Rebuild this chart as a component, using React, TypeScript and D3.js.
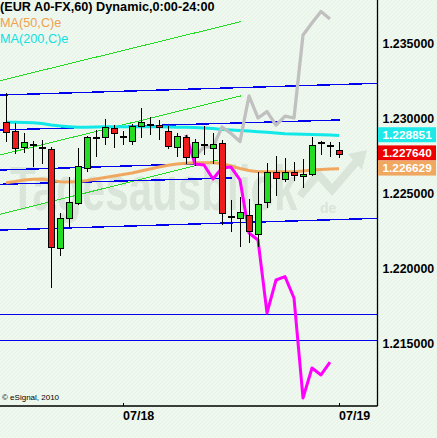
import React from 'react';
import * as d3 from 'd3';

const W = 437;
const H = 438;

// ---- Candle data (hourly EUR A0-FX) ----
const opens = [1.22973, 1.22915, 1.22807, 1.2282, 1.22805, 1.22793, 1.22133, 1.22333, 1.22433, 1.22667, 1.22872, 1.22873, 1.22933, 1.22877, 1.22847, 1.22951, 1.22955, 1.22955, 1.22915, 1.22811, 1.22873, 1.2274, 1.22822, 1.228, 1.22833, 1.22344, 1.22333, 1.22355, 1.22227, 1.2244, 1.22644, 1.22593, 1.22639, 1.22612, 1.2263, 1.22837, 1.22817, 1.22787];
const closes = [1.22907, 1.228, 1.22842, 1.2282, 1.22805, 1.22144, 1.22333, 1.2244, 1.22679, 1.22873, 1.22872, 1.22939, 1.229, 1.22877, 1.22947, 1.22973, 1.22955, 1.22939, 1.22817, 1.22882, 1.2274, 1.22839, 1.22822, 1.22832, 1.22367, 1.22344, 1.22377, 1.22251, 1.22429, 1.22644, 1.226, 1.22644, 1.22619, 1.22627, 1.2282, 1.22837, 1.22817, 1.22764];
const highs = [1.23169, 1.22967, 1.229, 1.22849, 1.22855, 1.22811, 1.22367, 1.22607, 1.228, 1.22882, 1.22922, 1.22995, 1.22955, 1.22915, 1.22961, 1.23071, 1.23012, 1.22989, 1.22951, 1.22904, 1.22889, 1.22861, 1.22949, 1.229, 1.22855, 1.22455, 1.22477, 1.22464, 1.22642, 1.227, 1.22749, 1.22733, 1.22711, 1.22727, 1.22877, 1.22847, 1.22842, 1.2284];
const lows = [1.22844, 1.22764, 1.22767, 1.22677, 1.22697, 1.21872, 1.22082, 1.22267, 1.22419, 1.22644, 1.22739, 1.22822, 1.22804, 1.22822, 1.22822, 1.22867, 1.22892, 1.22855, 1.22797, 1.22744, 1.22695, 1.22682, 1.22755, 1.22695, 1.22292, 1.22244, 1.22144, 1.22167, 1.22145, 1.22405, 1.22482, 1.22577, 1.22585, 1.22537, 1.22615, 1.22755, 1.22744, 1.22737];

// ---- Moving averages ----
const ma50 = [1.22571, 1.22579, 1.22589, 1.22593, 1.22595, 1.22585, 1.22577, 1.22575, 1.22579, 1.22585, 1.22595, 1.22605, 1.22615, 1.22625, 1.22635, 1.22649, 1.22662, 1.22675, 1.22687, 1.22695, 1.227, 1.22703, 1.22704, 1.22704, 1.22699, 1.22682, 1.22665, 1.22652, 1.22644, 1.22644, 1.22644, 1.22644, 1.22644, 1.22649, 1.22655, 1.22659, 1.22662, 1.226629];
const ma200 = [1.22973, 1.22973, 1.22972, 1.2297, 1.22965, 1.22955, 1.22949, 1.22944, 1.2294, 1.2294, 1.22942, 1.22944, 1.22944, 1.22944, 1.22944, 1.22944, 1.22944, 1.22944, 1.22942, 1.2294, 1.2294, 1.22939, 1.22935, 1.22932, 1.22925, 1.22922, 1.22919, 1.22915, 1.22911, 1.22907, 1.22902, 1.22897, 1.22895, 1.22893, 1.22892, 1.22891, 1.22889, 1.228851];

// ---- Overlay paths ----
const grayStart = 21;
const grayLine = [1.22742, 1.22809, 1.22809, 1.22942, 1.22899, 1.22845, 1.23149, 1.23002, 1.23045, 1.22955, 1.23015, 1.23002, 1.23555, 1.23635, 1.23712, 1.23662];
const magentaStart = 20;
const magentaLine = [1.22889, 1.22695, 1.22689, 1.22595, 1.22669, 1.22675, 1.22589, 1.22235, 1.22189, 1.21702, 1.21922, 1.21945, 1.21802, 1.21135, 1.21335, 1.21289, 1.21375];

// ---- Trend / support lines: [startIndex, startPrice, endIndex, endPrice] ----
const blueLines = [
  [-0.667, 1.23155, 41.22, 1.23233],
  [-0.667, 1.22922, 37.1, 1.22989],
  [-0.667, 1.22655, 23.8, 1.22702],
  [-0.667, 1.2256, 25.1, 1.22602],
  [-0.667, 1.22255, 41.22, 1.22333],
  [-0.667, 1.21693, 41.22, 1.21693],
  [-0.667, 1.2152, 41.22, 1.2152],
];
const greenLines = [
  [-0.667, 1.23251, 26.08, 1.23644],
  [-0.667, 1.22755, 26.08, 1.23149],
  [-0.667, 1.2236, 23.56, 1.22722],
];

// ---- Axis texts ----
const yTicks = [1.215, 1.22, 1.225, 1.23, 1.235];
const xTickIdx = [13, 37];
const xTickLabels = ['07/18', '07/19'];
const lastValues = [1.228851, 1.22764, 1.226629];
const lastLabels = ['1.228851', '1.227640', '1.226629'];
const lastColors = ['#1ee8e8', '#ee0000', '#f0a860'];

const title = '(EUR A0-FX,60) Dynamic,0:00-24:00';
const legend = [
  { text: 'MA(50,C)e', color: '#f0a050' },
  { text: 'MA(200,C)e', color: '#11e0e0' },
];

const FONT = 'Liberation Sans, Arial, Helvetica, sans-serif';

export default function App() {
  const plotRight = 377.5;
  const plotBottom = 406;
  const x = d3.scaleLinear().domain([-6 / 9, 371 / 9]).range([0, 377]);
  const y = d3.scaleLinear().domain([1.215, 1.235]).range([343.3, 43.3]);

  const lineGen = d3
    .line<[number, number]>()
    .x((d) => x(d[0]))
    .y((d) => y(d[1]));

  const ma50Path = lineGen(ma50.map((v, i) => [i, v]));
  const ma200Path = lineGen(ma200.map((v, i) => [i, v]));
  const grayPath = lineGen(grayLine.map((v, i) => [i + grayStart, v]));
  const magPath = lineGen(magentaLine.map((v, i) => [i + magentaStart, v]));

  const candles = opens.map((o, i) => ({ i, o, c: closes[i], h: highs[i], l: lows[i] }));

  return (
    <svg
      width={W}
      height={H}
      style={{ position: 'absolute', left: 0, top: 0, display: 'block' }}
      fontFamily={FONT}
    >
      <defs>
        <pattern id="bgp" width="4" height="4" patternUnits="userSpaceOnUse">
          <rect width="4" height="4" fill="#eff8ef" />
          <path d="M0 4 L4 0" stroke="#e8f3e8" strokeWidth="1" />
        </pattern>
        <clipPath id="plot">
          <rect x={0} y={0} width={plotRight} height={plotBottom} />
        </clipPath>
      </defs>
      <rect width={W} height={H} fill="url(#bgp)" />

      {/* watermark */}
      <g fill="#dae5da" stroke="none">
        <g transform="translate(10,210) scale(0.68,1)">
          <text x={0} y={0} fontSize={62} fontWeight="bold">Tagesausblick</text>
        </g>
        <text x={320} y={213} fontSize={14} fontWeight="bold">de</text>
        <path d="M300 196 L318 174 L332 190 L358 160" fill="none" stroke="#dae5da" strokeWidth={8} />
        <path d="M348 154 L367 150 L362 170 Z" fill="#dae5da" />
      </g>

      <g clipPath="url(#plot)">
        {greenLines.map((l, k) => (
          <line key={'g' + k} x1={x(l[0])} y1={y(l[1])} x2={x(l[2])} y2={y(l[3])} stroke="#22dd22" strokeWidth={1} shapeRendering="crispEdges" />
        ))}
        {blueLines.map((l, k) => (
          <line key={'b' + k} x1={x(l[0])} y1={y(l[1])} x2={x(l[2])} y2={y(l[3])} stroke="#0000ee" strokeWidth={1.4} shapeRendering="crispEdges" />
        ))}
        <path d={ma200Path || ''} fill="none" stroke="#11e8e8" strokeWidth={3} />
        <path d={ma50Path || ''} fill="none" stroke="#f0a860" strokeWidth={3} />
        <path d={grayPath || ''} fill="none" stroke="#c0c0c0" strokeWidth={3.3} strokeLinejoin="round" />
        <path d={magPath || ''} fill="none" stroke="#ff00ff" strokeWidth={3} strokeLinejoin="round" />

        {candles.map((d) => {
          const cx = Math.round(x(d.i));
          const doji = d.o === d.c;
          const up = d.c > d.o;
          const top = y(Math.max(d.o, d.c));
          const bot = y(Math.min(d.o, d.c));
          return (
            <g key={d.i} shapeRendering="crispEdges">
              <line x1={cx + 0.5} x2={cx + 0.5} y1={y(d.h)} y2={y(d.l)} stroke="#000" strokeWidth={1} />
              {doji ? (
                <rect x={cx - 3} y={Math.round(y(d.o)) - 1} width={7} height={2} fill="#000" />
              ) : (
                <rect
                  x={cx - 2.5}
                  y={Math.round(top) + 0.5}
                  width={6}
                  height={Math.max(1, Math.round(bot) - Math.round(top))}
                  fill={up ? '#22dd22' : '#ee1c1c'}
                  stroke="#000"
                  strokeWidth={1}
                />
              )}
            </g>
          );
        })}
      </g>

      {/* axes */}
      <line x1={plotRight} x2={plotRight} y1={0} y2={plotBottom} stroke="#000" strokeWidth={1.3} />
      <line x1={0} x2={plotRight} y1={plotBottom} y2={plotBottom} stroke="#000" strokeWidth={1.3} />
      {xTickIdx.map((t, k) => (
        <g key={'xt' + k}>
          <line x1={Math.round(x(t)) + 0.5} x2={Math.round(x(t)) + 0.5} y1={plotBottom - 3} y2={plotBottom} stroke="#000" />
          <text x={Math.round(x(t))} y={420} fontSize={12.5} fontWeight="bold" fill="#000">
            {xTickLabels[k]}
          </text>
        </g>
      ))}
      {yTicks.map((t) => (
        <text key={'yt' + t} x={382.5} y={y(t)} dy="0.36em" fontSize={12.4} fontWeight="bold" fill="#000">
          {t.toFixed(6)}
        </text>
      ))}
      {lastValues.map((v, k) => {
        const cy = y(v) - 0.8;
        return (
          <g key={'lv' + k}>
            <rect x={378} y={cy - 7.5} width={58} height={15} fill={lastColors[k]} />
            <text x={382.5} y={cy} dy="0.36em" fontSize={11.8} fontWeight="bold" fill="#fff">
              {lastLabels[k]}
            </text>
          </g>
        );
      })}

      {/* title & legend */}
      <text x={0} y={11} fontSize={12.7} fontWeight="bold" fill="#000">{title}</text>
      {legend.map((l, k) => (
        <text key={'lg' + k} x={0} y={27 + 16 * k} fontSize={12.7} fill={l.color}>{l.text}</text>
      ))}
      <text x={2} y={400} fontSize={8} fill="#000">© eSignal, 2010</text>
    </svg>
  );
}
